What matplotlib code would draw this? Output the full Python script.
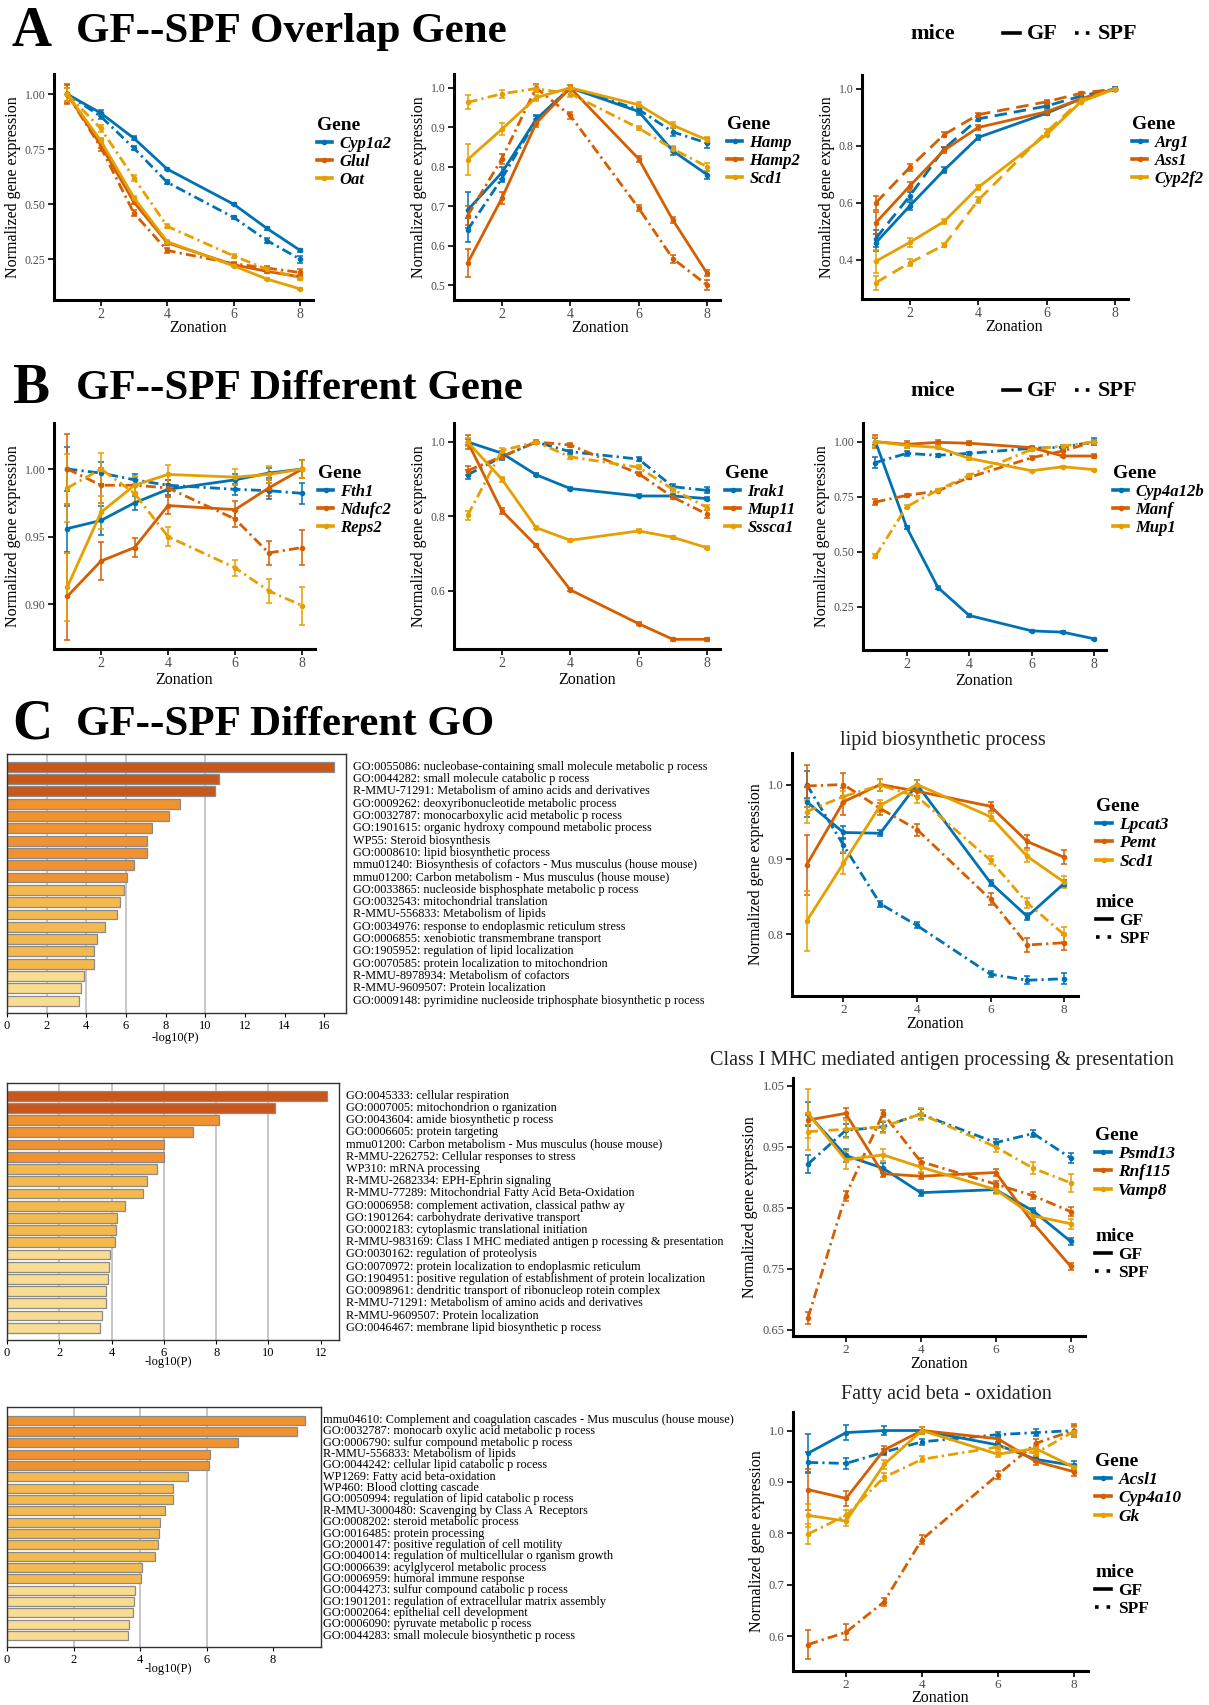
import numpy as np
import matplotlib
matplotlib.use('Agg')
import matplotlib.pyplot as plt
from matplotlib.lines import Line2D
from matplotlib.ticker import FormatStrFormatter
import matplotlib.transforms as mtransforms

plt.rcParams['font.family'] = ['Liberation Serif', 'DejaVu Serif']

ZONE = [1, 2, 3, 4, 6, 7, 8]
COLORS = ['#0072B2', '#D55E00', '#E69F00']

# ---------- A: overlap genes ----------
A1_GENES = ['Cyp1a2', 'Glul', 'Oat']
A1_GF = [[1.00, 0.915, 0.80, 0.66, 0.50, 0.39, 0.29],
         [1.00, 0.77, 0.51, 0.325, 0.225, 0.195, 0.17],
         [1.00, 0.79, 0.53, 0.33, 0.22, 0.16, 0.115]]
A1_SPF = [[1.00, 0.90, 0.755, 0.60, 0.44, 0.335, 0.25],
          [1.00, 0.76, 0.46, 0.29, 0.23, 0.21, 0.19],
          [1.00, 0.845, 0.62, 0.40, 0.265, 0.205, 0.165]]
A1_GF_ERR = [[0.03, 0.012, 0.008, 0.006, 0.005, 0.007, 0.007],
             [0.045, 0.015, 0.01, 0.008, 0.006, 0.006, 0.01],
             [0.03, 0.01, 0.008, 0.006, 0.005, 0.005, 0.005]]
A1_SPF_ERR = [[0.03, 0.012, 0.008, 0.01, 0.008, 0.01, 0.015],
              [0.04, 0.02, 0.012, 0.01, 0.008, 0.01, 0.015],
              [0.03, 0.015, 0.012, 0.01, 0.008, 0.008, 0.01]]

A2_GENES = ['Hamp', 'Hamp2', 'Scd1']
A2_GF = [[0.69, 0.785, 0.92, 1.00, 0.94, 0.84, 0.78],
         [0.556, 0.72, 0.91, 1.00, 0.82, 0.665, 0.53],
         [0.818, 0.895, 0.975, 1.00, 0.957, 0.905, 0.868]]
A2_SPF = [[0.64, 0.77, 0.918, 1.00, 0.945, 0.888, 0.86],
          [0.676, 0.82, 1.00, 0.93, 0.695, 0.567, 0.50],
          [0.963, 0.985, 0.998, 0.985, 0.898, 0.845, 0.80]]
A2_GF_ERR = [[0.045, 0.015, 0.01, 0.008, 0.008, 0.01, 0.01],
             [0.035, 0.015, 0.01, 0.008, 0.008, 0.008, 0.008],
             [0.04, 0.015, 0.008, 0.006, 0.006, 0.008, 0.008]]
A2_SPF_ERR = [[0.03, 0.01, 0.01, 0.008, 0.008, 0.01, 0.012],
              [0.025, 0.012, 0.01, 0.008, 0.008, 0.01, 0.012],
              [0.018, 0.01, 0.008, 0.008, 0.006, 0.008, 0.01]]

A3_GENES = ['Arg1', 'Ass1', 'Cyp2f2']
A3_GF = [[0.46, 0.59, 0.715, 0.83, 0.915, 0.965, 1.00],
         [0.53, 0.66, 0.785, 0.865, 0.92, 0.965, 1.00],
         [0.395, 0.462, 0.535, 0.655, 0.84, 0.955, 1.00]]
A3_SPF = [[0.475, 0.625, 0.79, 0.895, 0.94, 0.975, 1.00],
          [0.60, 0.725, 0.84, 0.91, 0.955, 0.985, 1.00],
          [0.32, 0.39, 0.452, 0.61, 0.85, 0.96, 1.00]]
A3_GF_ERR = [[0.03, 0.015, 0.01, 0.008, 0.006, 0.005, 0.008],
             [0.04, 0.015, 0.01, 0.008, 0.006, 0.005, 0.005],
             [0.04, 0.015, 0.008, 0.008, 0.006, 0.005, 0.005]]
A3_SPF_ERR = [[0.03, 0.015, 0.008, 0.008, 0.006, 0.005, 0.008],
              [0.025, 0.012, 0.008, 0.006, 0.005, 0.005, 0.005],
              [0.025, 0.012, 0.008, 0.01, 0.01, 0.006, 0.005]]

# ---------- B: different genes ----------
B1_GENES = ['Fth1', 'Ndufc2', 'Reps2']
B1_GF = [[0.956, 0.962, 0.975, 0.985, 0.992, 0.997, 1.00],
         [0.906, 0.932, 0.942, 0.973, 0.970, 0.986, 1.00],
         [0.913, 0.968, 0.988, 0.996, 0.994, 0.996, 1.00]]
B1_SPF = [[1.00, 0.997, 0.992, 0.988, 0.985, 0.984, 0.982],
          [1.00, 0.988, 0.988, 0.986, 0.963, 0.938, 0.942],
          [0.986, 1.00, 0.982, 0.950, 0.927, 0.910, 0.899]]
B1_GF_ERR = [[0.017, 0.011, 0.005, 0.004, 0.004, 0.004, 0.007],
             [0.032, 0.014, 0.007, 0.006, 0.006, 0.006, 0.007],
             [0.025, 0.012, 0.007, 0.007, 0.006, 0.006, 0.007]]
B1_SPF_ERR = [[0.016, 0.008, 0.004, 0.004, 0.004, 0.006, 0.008],
              [0.026, 0.013, 0.006, 0.006, 0.006, 0.009, 0.013],
              [0.025, 0.012, 0.007, 0.007, 0.006, 0.009, 0.014]]

B2_GENES = ['Irak1', 'Mup11', 'Sssca1']
B2_GF = [[1.00, 0.97, 0.912, 0.875, 0.855, 0.855, 0.848],
         [1.00, 0.815, 0.722, 0.603, 0.512, 0.470, 0.470],
         [1.00, 0.90, 0.77, 0.736, 0.761, 0.744, 0.716]]
B2_SPF = [[0.912, 0.96, 1.00, 0.974, 0.954, 0.880, 0.870],
          [0.923, 0.961, 1.00, 0.992, 0.915, 0.852, 0.806],
          [0.803, 0.977, 1.00, 0.960, 0.932, 0.873, 0.824]]
B2_GF_ERR = [[0.008, 0.005, 0.004, 0.004, 0.004, 0.004, 0.004],
             [0.02, 0.009, 0.005, 0.004, 0.004, 0.004, 0.004],
             [0.01, 0.007, 0.004, 0.004, 0.004, 0.004, 0.004]]
B2_SPF_ERR = [[0.012, 0.008, 0.005, 0.005, 0.005, 0.008, 0.008],
              [0.012, 0.008, 0.005, 0.005, 0.005, 0.006, 0.01],
              [0.012, 0.008, 0.005, 0.005, 0.005, 0.006, 0.008]]

B3_GENES = ['Cyp4a12b', 'Manf', 'Mup1']
B3_GF = [[1.00, 0.61, 0.337, 0.21, 0.14, 0.134, 0.104],
         [1.00, 0.988, 0.997, 0.993, 0.973, 0.935, 0.935],
         [1.00, 0.983, 0.974, 0.924, 0.868, 0.886, 0.873]]
B3_SPF = [[0.905, 0.947, 0.938, 0.947, 0.970, 0.975, 1.00],
          [0.726, 0.756, 0.776, 0.838, 0.927, 0.958, 1.00],
          [0.48, 0.705, 0.78, 0.847, 0.965, 0.98, 1.00]]
B3_GF_ERR = [[0.015, 0.008, 0.005, 0.005, 0.005, 0.005, 0.005],
             [0.03, 0.015, 0.01, 0.008, 0.006, 0.006, 0.008],
             [0.02, 0.01, 0.005, 0.005, 0.005, 0.005, 0.005]]
B3_SPF_ERR = [[0.025, 0.012, 0.008, 0.006, 0.006, 0.008, 0.015],
              [0.015, 0.008, 0.006, 0.006, 0.006, 0.006, 0.008],
              [0.008, 0.006, 0.006, 0.006, 0.006, 0.006, 0.006]]

# ---------- C: GO enrichment + example genes ----------
GO1_TERMS = ['GO:0055086: nucleobase-containing small molecule metabolic p rocess',
             'GO:0044282: small molecule catabolic p rocess',
             'R-MMU-71291: Metabolism of amino acids and derivatives',
             'GO:0009262: deoxyribonucleotide metabolic process',
             'GO:0032787: monocarboxylic acid metabolic p rocess',
             'GO:1901615: organic hydroxy compound metabolic process',
             'WP55: Steroid biosynthesis',
             'GO:0008610: lipid biosynthetic process',
             'mmu01240: Biosynthesis of cofactors - Mus musculus (house mouse)',
             'mmu01200: Carbon metabolism - Mus musculus (house mouse)',
             'GO:0033865: nucleoside bisphosphate metabolic p rocess',
             'GO:0032543: mitochondrial translation',
             'R-MMU-556833: Metabolism of lipids',
             'GO:0034976: response to endoplasmic reticulum stress',
             'GO:0006855: xenobiotic transmembrane transport',
             'GO:1905952: regulation of lipid localization',
             'GO:0070585: protein localization to mitochondrion',
             'R-MMU-8978934: Metabolism of cofactors',
             'R-MMU-9609507: Protein localization',
             'GO:0009148: pyrimidine nucleoside triphosphate biosynthetic p rocess']
GO1_LOGP = [16.5, 10.7, 10.5, 8.75, 8.15, 7.3, 7.05, 7.05, 6.4, 6.05,
            5.9, 5.72, 5.55, 4.95, 4.52, 4.4, 4.4, 3.88, 3.75, 3.65]

GO2_TERMS = ['GO:0045333: cellular respiration',
             'GO:0007005: mitochondrion o rganization',
             'GO:0043604: amide biosynthetic p rocess',
             'GO:0006605: protein targeting',
             'mmu01200: Carbon metabolism - Mus musculus (house mouse)',
             'R-MMU-2262752: Cellular responses to stress',
             'WP310: mRNA processing',
             'R-MMU-2682334: EPH-Ephrin signaling',
             'R-MMU-77289: Mitochondrial Fatty Acid Beta-Oxidation',
             'GO:0006958: complement activation, classical pathw ay',
             'GO:1901264: carbohydrate derivative transport',
             'GO:0002183: cytoplasmic translational initiation',
             'R-MMU-983169: Class I MHC mediated antigen p rocessing & presentation',
             'GO:0030162: regulation of proteolysis',
             'GO:0070972: protein localization to endoplasmic reticulum',
             'GO:1904951: positive regulation of establishment of protein localization',
             'GO:0098961: dendritic transport of ribonucleop rotein complex',
             'R-MMU-71291: Metabolism of amino acids and derivatives',
             'R-MMU-9609507: Protein localization',
             'GO:0046467: membrane lipid biosynthetic p rocess']
GO2_LOGP = [12.25, 10.25, 8.1, 7.1, 6.02, 6.02, 5.72, 5.35, 5.2, 4.5,
            4.22, 4.18, 4.15, 3.95, 3.92, 3.88, 3.8, 3.78, 3.65, 3.55]

GO3_TERMS = ['mmu04610: Complement and coagulation cascades - Mus musculus (house mouse)',
             'GO:0032787: monocarb oxylic acid metabolic p rocess',
             'GO:0006790: sulfur compound metabolic p rocess',
             'R-MMU-556833: Metabolism of lipids',
             'GO:0044242: cellular lipid catabolic p rocess',
             'WP1269: Fatty acid beta-oxidation',
             'WP460: Blood clotting cascade',
             'GO:0050994: regulation of lipid catabolic p rocess',
             'R-MMU-3000480: Scavenging by Class A  Receptors',
             'GO:0008202: steroid metabolic process',
             'GO:0016485: protein processing',
             'GO:2000147: positive regulation of cell motility',
             'GO:0040014: regulation of multicellular o rganism growth',
             'GO:0006639: acylglycerol metabolic process',
             'GO:0006959: humoral immune response',
             'GO:0044273: sulfur compound catabolic p rocess',
             'GO:1901201: regulation of extracellular matrix assembly',
             'GO:0002064: epithelial cell development',
             'GO:0006090: pyruvate metabolic p rocess',
             'GO:0044283: small molecule biosynthetic p rocess']
GO3_LOGP = [8.95, 8.72, 6.95, 6.1, 6.07, 5.45, 5.0, 5.0, 4.75, 4.6,
            4.57, 4.53, 4.45, 4.05, 4.02, 3.85, 3.83, 3.8, 3.68, 3.65]

C1_GENES = ['Lpcat3', 'Pemt', 'Scd1']
C1_GF = [[0.977, 0.936, 0.935, 1.00, 0.869, 0.824, 0.868],
         [0.893, 0.977, 1.00, 0.991, 0.971, 0.924, 0.903],
         [0.818, 0.895, 0.972, 1.00, 0.957, 0.904, 0.870]]
C1_SPF = [[1.00, 0.919, 0.841, 0.812, 0.747, 0.739, 0.741],
          [0.998, 1.00, 0.968, 0.940, 0.847, 0.786, 0.789],
          [0.964, 0.984, 0.999, 0.984, 0.899, 0.842, 0.800]]
C1_GF_ERR = [[0.02, 0.009, 0.004, 0.006, 0.004, 0.005, 0.005],
             [0.04, 0.018, 0.008, 0.006, 0.006, 0.009, 0.009],
             [0.04, 0.015, 0.008, 0.006, 0.005, 0.008, 0.008]]
C1_SPF_ERR = [[0.018, 0.01, 0.004, 0.004, 0.004, 0.005, 0.007],
              [0.028, 0.015, 0.008, 0.008, 0.008, 0.009, 0.01],
              [0.015, 0.008, 0.008, 0.008, 0.005, 0.007, 0.01]]

C2_GENES = ['Psmd13', 'Rnf115', 'Vamp8']
C2_GF = [[1.004, 0.936, 0.915, 0.875, 0.880, 0.845, 0.795],
         [0.994, 1.005, 0.906, 0.902, 0.908, 0.825, 0.754],
         [1.005, 0.929, 0.937, 0.917, 0.880, 0.837, 0.824]]
C2_SPF = [[0.922, 0.977, 0.983, 1.004, 0.957, 0.972, 0.932],
          [0.670, 0.870, 1.005, 0.926, 0.889, 0.870, 0.844],
          [0.975, 0.979, 0.983, 1.004, 0.950, 0.915, 0.891]]
C2_GF_ERR = [[0.02, 0.01, 0.008, 0.005, 0.005, 0.005, 0.005],
             [0.008, 0.008, 0.005, 0.005, 0.005, 0.005, 0.005],
             [0.04, 0.015, 0.01, 0.008, 0.008, 0.008, 0.008]]
C2_SPF_ERR = [[0.015, 0.01, 0.008, 0.008, 0.006, 0.006, 0.008],
              [0.01, 0.008, 0.006, 0.006, 0.005, 0.006, 0.008],
              [0.03, 0.015, 0.01, 0.01, 0.008, 0.01, 0.015]]

C3_GENES = ['Acsl1', 'Cyp4a10', 'Gk']
C3_GF = [[0.956, 0.996, 1.00, 1.00, 0.972, 0.944, 0.932],
         [0.885, 0.868, 0.962, 1.00, 0.984, 0.940, 0.920],
         [0.835, 0.824, 0.934, 1.00, 0.954, 0.965, 0.929]]
C3_SPF = [[0.938, 0.936, 0.958, 0.978, 0.992, 0.996, 1.00],
          [0.584, 0.608, 0.667, 0.788, 0.914, 0.975, 1.00],
          [0.799, 0.835, 0.909, 0.944, 0.968, 0.956, 0.998]]
C3_GF_ERR = [[0.037, 0.015, 0.008, 0.006, 0.006, 0.006, 0.008],
             [0.04, 0.015, 0.008, 0.006, 0.006, 0.008, 0.008],
             [0.022, 0.01, 0.008, 0.006, 0.005, 0.006, 0.006]]
C3_SPF_ERR = [[0.02, 0.01, 0.006, 0.006, 0.005, 0.006, 0.008],
              [0.028, 0.015, 0.008, 0.008, 0.008, 0.008, 0.012],
              [0.02, 0.01, 0.008, 0.006, 0.005, 0.006, 0.008]]

W, H = 1209, 1705
fig = plt.figure(figsize=(W / 100, H / 100), dpi=100)

DASHDOT = (0, (3.6, 1.5, 0.8, 1.5))
DASHED = (0, (4.5, 2.5))


def px_axes(l, t, r, b):
    return fig.add_axes([l / W, 1 - b / H, (r - l) / W, (b - t) / H])


def fpos(x, y):
    return x / W, 1 - y / H


def line_panel(box, genes, gf, spf, gf_err, spf_err, ylim, yticks, fmt,
               leg_xy, spf_ls=DASHDOT, mice_xy=None, xfs=10, yfs=8.5, lfs=12,
               xlab_x=None, xpad=1):
    ax = px_axes(*box)
    for i in range(len(genes)):
        c = COLORS[i]
        kw = dict(color=c, lw=2.0, marker='o', ms=3, capsize=2,
                  elinewidth=1.1, capthick=1.1)
        ax.errorbar(ZONE, spf[i], yerr=spf_err[i], ls=spf_ls, **kw)
        ax.errorbar(ZONE, gf[i], yerr=gf_err[i], ls='-', **kw)
    ax.set_xlim(0.6, 8.38)
    ax.set_ylim(*ylim)
    ax.set_xticks([2, 4, 6, 8])
    ax.set_yticks(yticks)
    ax.yaxis.set_major_formatter(FormatStrFormatter(fmt))
    for s in ['top', 'right']:
        ax.spines[s].set_visible(False)
    for s in ['left', 'bottom']:
        ax.spines[s].set_linewidth(2.2)
    ax.tick_params(axis='both', direction='out', length=4, width=1.2,
                   colors='black')
    ax.tick_params(axis='x', labelsize=xfs, labelcolor='#4d4d4d', pad=2)
    ax.tick_params(axis='y', labelsize=yfs, labelcolor='#4d4d4d', pad=2)
    ax.set_xlabel('Zonation', fontsize=11.5, labelpad=xpad)
    ax.set_ylabel('Normalized gene expression', fontsize=11.5, labelpad=3)
    if xlab_x is not None:
        ax.xaxis.set_label_coords((xlab_x - box[0]) / (box[2] - box[0]), -0.09)
    handles = [Line2D([], [], color=COLORS[i], lw=2.6, marker='o', ms=3)
               for i in range(len(genes))]
    common = dict(loc='upper left', bbox_transform=fig.transFigure,
                  frameon=False,
                  title_fontproperties={'weight': 'bold', 'size': 14},
                  handlelength=0.9, handletextpad=0.45, labelspacing=0.12,
                  borderpad=0, borderaxespad=0, alignment='left')
    leg = ax.legend(handles, genes, bbox_to_anchor=fpos(*leg_xy), title='Gene',
                    prop={'weight': 'bold', 'style': 'italic', 'size': lfs},
                    **common)
    if mice_xy is not None:
        ax.add_artist(leg)
        mh = [Line2D([], [], color='black', lw=2.6),
              Line2D([], [], color='black', lw=2.6, ls=(0, (1, 2.2)))]
        ax.legend(mh, ['GF', 'SPF'], bbox_to_anchor=fpos(*mice_xy), title='mice',
                  prop={'weight': 'bold', 'size': lfs}, **common)
    return ax


BAR_COLORS = ['#f8dc92', '#f3b94e', '#f0922f', '#c9571a']


def bar_color(v):
    if v > 10:
        return BAR_COLORS[3]
    if v > 6:
        return BAR_COLORS[2]
    if v > 4:
        return BAR_COLORS[1]
    return BAR_COLORS[0]


def bar_panel(box, terms, logp, xmax, xticks, grid, text_x, ytop, xlab_xy):
    ax = px_axes(*box)
    y = np.arange(len(logp))
    for g in grid:
        ax.axvline(g, color='#bdbdbd', lw=1.2, zorder=1)
    ax.barh(y, logp, height=0.8, color=[bar_color(v) for v in logp],
            edgecolor='#8a8a8a', lw=0.9, zorder=2)
    ax.set_xlim(0, xmax)
    ax.set_ylim(len(logp) - 1 + 1.0, -ytop)
    ax.set_yticks([])
    ax.set_xticks(xticks)
    ax.tick_params(axis='x', labelsize=9, length=3, width=0.8, pad=2)
    for s in ax.spines.values():
        s.set_linewidth(1.0)
        s.set_color('#333333')
    trans = mtransforms.blended_transform_factory(fig.transFigure, ax.transData)
    for i, t in enumerate(terms):
        ax.text(text_x / W, i, t, transform=trans, va='center', ha='left',
                fontsize=8.8)
    fig.text(*fpos(*xlab_xy), '-log10(P)', ha='center', va='center', fontsize=9)
    return ax


def header(letter, title, ybase, mice=True):
    fig.text(*fpos(12, ybase + 4), letter, fontsize=40, fontweight='bold',
             va='baseline')
    fig.text(*fpos(76, ybase), title, fontsize=31, fontweight='bold',
             va='baseline')
    if mice:
        fig.text(*fpos(910, ybase - 3), 'mice', fontsize=16, fontweight='bold',
                 va='baseline')
        x0, y0 = fpos(1003, ybase - 9)
        x1, _ = fpos(1020, ybase - 9)
        fig.add_artist(Line2D([x0, x1], [y0, y0], color='black', lw=2.6,
                              transform=fig.transFigure))
        fig.text(*fpos(1027, ybase - 3), 'GF', fontsize=16, fontweight='bold',
                 va='baseline')
        x0, y0 = fpos(1075, ybase - 9)
        x1, _ = fpos(1090, ybase - 9)
        fig.add_artist(Line2D([x0, x1], [y0, y0], color='black', lw=2.6,
                              ls=(0, (1, 2)), transform=fig.transFigure))
        fig.text(*fpos(1098, ybase - 3), 'SPF', fontsize=16, fontweight='bold',
                 va='baseline')


header('A', 'GF--SPF Overlap Gene', 42)
header('B', 'GF--SPF Different Gene', 399)
header('C', 'GF--SPF Different GO', 735, mice=False)

line_panel((54, 74, 313, 300), A1_GENES, A1_GF, A1_SPF, A1_GF_ERR, A1_SPF_ERR,
           (0.065, 1.092), [0.25, 0.5, 0.75, 1.0], '%.2f', (317, 117), xlab_x=198)
line_panel((454, 74, 720, 300), A2_GENES, A2_GF, A2_SPF, A2_GF_ERR, A2_SPF_ERR,
           (0.462, 1.035), [0.5, 0.6, 0.7, 0.8, 0.9, 1.0], '%.1f', (727, 116),
           xlab_x=600)
line_panel((862, 75, 1128, 299), A3_GENES, A3_GF, A3_SPF, A3_GF_ERR, A3_SPF_ERR,
           (0.263, 1.049), [0.4, 0.6, 0.8, 1.0], '%.1f', (1132, 116), spf_ls=DASHED,
           xlab_x=1014)

line_panel((54, 423, 315, 649), B1_GENES, B1_GF, B1_SPF, B1_GF_ERR, B1_SPF_ERR,
           (0.867, 1.034), [0.90, 0.95, 1.00], '%.2f', (318, 465))
line_panel((454, 423, 720, 649), B2_GENES, B2_GF, B2_SPF, B2_GF_ERR, B2_SPF_ERR,
           (0.444, 1.051), [0.6, 0.8, 1.0], '%.1f', (725, 465))
line_panel((863, 423, 1106, 650), B3_GENES, B3_GF, B3_SPF, B3_GF_ERR, B3_SPF_ERR,
           (0.053, 1.085), [0.25, 0.5, 0.75, 1.0], '%.2f', (1113, 465))

bar_panel((7, 754, 346, 1013), GO1_TERMS, GO1_LOGP, 17.1, range(0, 17, 2),
          [2, 4, 6, 10], 353, 1.03, (175, 1038))
bar_panel((7, 1083, 339, 1340), GO2_TERMS, GO2_LOGP, 12.7, range(0, 13, 2),
          [2, 4, 6, 8, 10], 346, 1.04, (168, 1362))
bar_panel((7, 1407, 321, 1647), GO3_TERMS, GO3_LOGP, 9.44, range(0, 9, 2),
          [2, 4, 6], 323, 1.15, (168, 1669))

line_panel((792, 753, 1078, 996), C1_GENES, C1_GF, C1_SPF, C1_GF_ERR, C1_SPF_ERR,
           (0.718, 1.042), [0.8, 0.9, 1.0], '%.1f', (1096, 798),
           mice_xy=(1096, 894), xfs=9.5, yfs=9, lfs=12.5, xpad=0)
fig.text(*fpos(943, 741), 'lipid biosynthetic process', ha='center',
         va='center', fontsize=14.5, color='#222222')
line_panel((793, 1078, 1085, 1336), C2_GENES, C2_GF, C2_SPF, C2_GF_ERR, C2_SPF_ERR,
           (0.640, 1.063), [0.65, 0.75, 0.85, 0.95, 1.05], '%.2f', (1095, 1127),
           mice_xy=(1095, 1228), xfs=9.5, yfs=9, lfs=12.5, xpad=0)
fig.text(*fpos(942, 1060), 'Class I MHC mediated antigen processing & presentation',
         ha='center', va='center', fontsize=14.5, color='#222222')
line_panel((793, 1412, 1088, 1671), C3_GENES, C3_GF, C3_SPF, C3_GF_ERR, C3_SPF_ERR,
           (0.5325, 1.036), [0.6, 0.7, 0.8, 0.9, 1.0], '%.1f', (1095, 1453),
           mice_xy=(1095, 1564), xfs=9.5, yfs=9, lfs=12.5, xpad=-1)
fig.text(*fpos(946, 1394), 'Fatty acid beta - oxidation', ha='center',
         va='center', fontsize=14.5, color='#222222')

fig.savefig('out.png', dpi=100)
